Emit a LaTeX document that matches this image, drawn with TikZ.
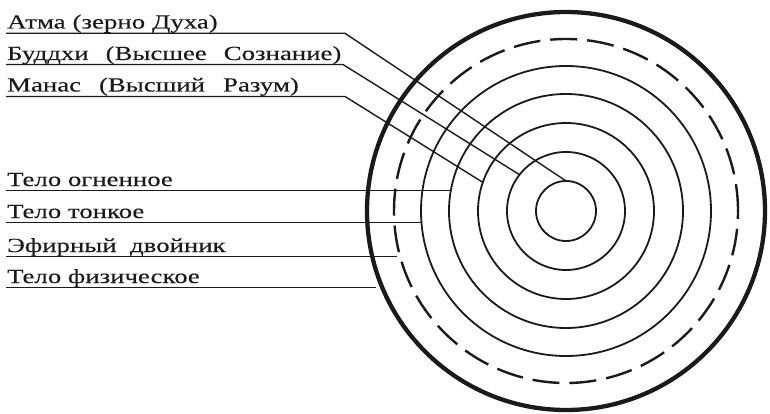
\documentclass[tikz,border=0pt]{standalone}
\usepackage{fontspec}
\setmainfont{Liberation Serif}
\newfontfamily\widefont[FakeStretch=1.34,FakeBold=0.25]{Liberation Serif}
\usetikzlibrary{calc}
\definecolor{ink}{HTML}{1A1A1A}
\tikzset{
  lbl/.style={anchor=base west, inner sep=0pt, text=ink, font=\widefont\fontsize{20}{20}\selectfont},
  leader/.style={draw=ink, line width=1.4pt},
  ring/.style={draw=ink, line width=1.8pt},
  dashring/.style={draw=ink, line width=2.4pt, dash pattern=on 27pt off 10pt},
  outerring/.style={draw=ink, line width=4.3pt}
}
\begin{document}
\begin{tikzpicture}[x=1pt,y=-1pt]
\useasboundingbox (0,0) rectangle (770,414);
\coordinate (c) at (566,211);
% rings
\draw[ring] (c) circle[radius=30pt];
\draw[ring] (c) circle[radius=59pt];
\draw[ring] (c) circle[radius=88pt];
\draw[ring] (c) circle[radius=117pt];
\draw[ring] (c) circle[radius=145pt];
\draw[dashring] (c) circle[radius=172pt];
\draw[outerring] (c) circle[radius=199pt];
% labels
\node[lbl] (atma)   at (7,28.5) {Атма\hspace{7pt}(зерно\hspace{7pt}Духа)};
\node[lbl] (buddhi) at (7,60)   {Буддхи\hspace{17pt}(Высшее\hspace{17pt}Сознание)};
\node[lbl] (manas)  at (7,91.5) {Манас\hspace{18pt}(Высший\hspace{18pt}Разум)};
\node[lbl] (fire)   at (7,186)  {Тело огненное};
\node[lbl] (subtle) at (7,218)  {Тело тонкое};
\node[lbl] (ether)  at (7,252)  {Эфирный\ \ двойник};
\node[lbl] (phys)   at (7,283)  {Тело физическое};
% leader start points
\coordinate (s1) at (6,33.3);
\coordinate (s2) at (6,64.5);
\coordinate (s3) at (6,96.5);
\coordinate (s4) at (6,190.7);
\coordinate (s5) at (6,222.7);
\coordinate (s6) at (6,256.7);
\coordinate (s7) at (6,287.5);
% bends
\coordinate (b1) at (345,33.3);
\coordinate (b2) at (343,64.5);
\coordinate (b3) at (345,96.5);
% ends on rings
\coordinate (e1) at ($(c)+(90:30pt)$);
\coordinate (e2) at ($(c)+(142:59pt)$);
\coordinate (e3) at ($(c)+(161:88pt)$);
\coordinate (e4) at (451,190.7);
\coordinate (e5) at (421.5,222.7);
\coordinate (e6) at (397,256.7);
\coordinate (e7) at (376,287.5);
% connectors
\draw[leader] (s1) -- (b1) -- (e1);
\draw[leader] (s2) -- (b2) -- (e2);
\draw[leader] (s3) -- (b3) -- (e3);
\draw[leader] (s4) -- (e4);
\draw[leader] (s5) -- (e5);
\draw[leader] (s6) -- (e6);
\draw[leader] (s7) -- (e7);
\end{tikzpicture}
\end{document}
